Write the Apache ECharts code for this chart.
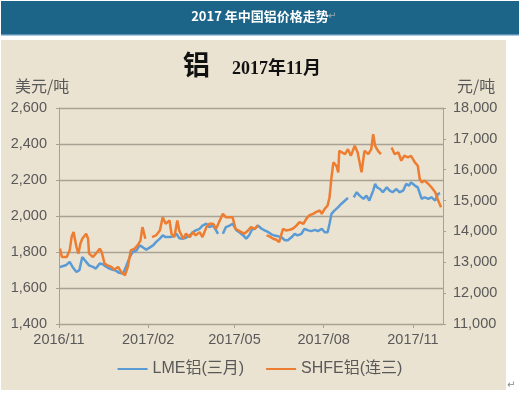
<!DOCTYPE html>
<html><head><meta charset="utf-8">
<script src="https://cdn.jsdelivr.net/npm/echarts@6/dist/echarts.min.js"></script>
<style>html,body{margin:0;padding:0;background:#fff}#c{width:520px;height:393px}</style>
</head><body><div id="c"></div>
<script>
// LME aluminium (3-month), USD/t
const lmeDates = ['2016-11-02','2016-11-08','2016-11-12','2016-11-15','2016-11-19','2016-11-22','2016-11-25','2016-11-29','2016-12-02','2016-12-06','2016-12-09','2016-12-13','2016-12-16','2016-12-20','2016-12-23','2016-12-26','2016-12-30','2017-01-02','2017-01-06','2017-01-09','2017-01-13','2017-01-16','2017-01-20','2017-01-23','2017-01-26','2017-01-30','2017-02-02','2017-02-06','2017-02-09','2017-02-13','2017-02-16','2017-02-19','2017-02-23','2017-02-26','2017-03-02','2017-03-05','2017-03-09','2017-03-12','2017-03-16','2017-03-19','2017-03-22','2017-03-26','2017-03-29','2017-04-02','2017-04-05','2017-04-09','2017-04-12','2017-04-14','2017-04-16','2017-04-19','2017-04-22','2017-04-26','2017-04-29','2017-05-03','2017-05-06','2017-05-10','2017-05-13','2017-05-16','2017-05-19','2017-05-22','2017-05-25','2017-05-29','2017-06-01','2017-06-05','2017-06-08','2017-06-11','2017-06-15','2017-06-18','2017-06-22','2017-06-25','2017-06-29','2017-07-02','2017-07-05','2017-07-09','2017-07-12','2017-07-16','2017-07-19','2017-07-23','2017-07-26','2017-07-30','2017-08-02','2017-08-05','2017-08-07','2017-08-09','2017-08-12','2017-08-16','2017-08-19','2017-08-23','2017-08-26','2017-08-28','2017-09-01','2017-09-04','2017-09-07','2017-09-11','2017-09-14','2017-09-17','2017-09-21','2017-09-23','2017-09-25','2017-09-28','2017-10-01','2017-10-05','2017-10-08','2017-10-11','2017-10-15','2017-10-18','2017-10-22','2017-10-25','2017-10-28','2017-10-30','2017-11-03','2017-11-06','2017-11-10','2017-11-13','2017-11-17','2017-11-20','2017-11-24','2017-11-27','2017-11-29'];
const lmeValues = [1717,1726,1745,1717,1689,1699,1772,1745,1726,1717,1708,1736,1732,1717,1708,1702,1695,1684,1680,1717,1772,1800,1809,1837,1828,1813,1823,1837,1855,1874,1892,1883,1883,1886,1901,1877,1874,1879,1892,1910,1920,1929,1947,1957,1938,1947,1920,1901,null,1901,1938,1947,1957,1920,1910,1892,1874,1892,1925,1929,1947,1929,1920,1910,1898,1892,1887,1883,1865,1865,1883,1901,1892,1901,1929,1920,1916,1923,1916,1929,1910,1910,1957,2012,2030,2049,2067,2086,2101,null,2104,2132,2113,2095,2113,2086,2141,2178,2159,2150,2132,2159,2141,2132,2150,2132,2141,2178,2169,2187,2169,2159,2095,2104,2095,2104,2086,2123,2127];

// SHFE aluminium (3rd contract), CNY/t
const shfeDates = ['2016-11-02','2016-11-04','2016-11-06','2016-11-09','2016-11-12','2016-11-14','2016-11-16','2016-11-19','2016-11-21','2016-11-23','2016-11-25','2016-11-29','2016-12-01','2016-12-02','2016-12-06','2016-12-09','2016-12-13','2016-12-15','2016-12-18','2016-12-21','2016-12-25','2016-12-28','2017-01-01','2017-01-04','2017-01-06','2017-01-08','2017-01-11','2017-01-14','2017-01-18','2017-01-21','2017-01-24','2017-01-26','2017-01-27','2017-01-29','2017-02-01','2017-02-05','2017-02-09','2017-02-13','2017-02-16','2017-02-19','2017-02-23','2017-02-25','2017-02-28','2017-03-03','2017-03-05','2017-03-09','2017-03-12','2017-03-16','2017-03-19','2017-03-22','2017-03-26','2017-03-29','2017-04-02','2017-04-05','2017-04-09','2017-04-12','2017-04-15','2017-04-19','2017-04-22','2017-04-26','2017-04-29','2017-05-02','2017-05-04','2017-05-08','2017-05-11','2017-05-15','2017-05-18','2017-05-22','2017-05-25','2017-05-29','2017-06-03','2017-06-06','2017-06-10','2017-06-13','2017-06-16','2017-06-20','2017-06-23','2017-06-27','2017-06-30','2017-07-04','2017-07-07','2017-07-11','2017-07-14','2017-07-17','2017-07-21','2017-07-24','2017-07-28','2017-07-30','2017-08-02','2017-08-05','2017-08-07','2017-08-09','2017-08-11','2017-08-14','2017-08-16','2017-08-17','2017-08-19','2017-08-23','2017-08-26','2017-08-29','2017-09-02','2017-09-05','2017-09-09','2017-09-12','2017-09-16','2017-09-19','2017-09-21','2017-09-23','2017-09-26','2017-09-29','2017-10-03','2017-10-10','2017-10-13','2017-10-17','2017-10-20','2017-10-23','2017-10-27','2017-10-30','2017-11-03','2017-11-06','2017-11-08','2017-11-10','2017-11-13','2017-11-17','2017-11-20','2017-11-24','2017-11-27','2017-11-30'];
const shfeValues = [13442,13172,13119,13172,13387,13817,13979,13495,13280,13602,13764,13925,13764,13280,13172,13280,13442,13334,12957,12903,12850,12764,12850,12688,12635,12581,12850,13387,13442,13549,13700,14140,14032,13764,null,13817,13871,14032,14463,14248,14355,13925,13817,14355,14032,13764,13925,13817,13979,13871,13979,13817,14140,14248,14248,14086,14301,14570,14463,14463,14463,14086,14032,13979,13925,14032,14140,14086,14194,null,13871,13839,13764,13731,13656,14086,14032,14054,14086,14194,14301,14248,14409,14516,14570,14624,14678,14570,14731,14839,15108,15753,16237,16129,15914,16613,16610,16506,16667,16452,16775,16559,15914,16613,16506,16667,17151,16775,16613,16506,null,16721,16506,16559,16291,16452,16398,16452,16237,16129,15700,15592,15645,15538,15430,15269,15000,14785];

const seriesNames = ['LME铝(三月)', 'SHFE铝(连三)'];
const xTickDates = ['2016-11-01','2017-02-01','2017-05-01','2017-08-01','2017-11-01'];
const xTickLabels = ['2016/11','2017/02','2017/05','2017/08','2017/11'];
const axisStart = '2016-11-01', axisEnd = '2017-12-02';

// calendar-day categories for the x axis
const categories = [];
(function(){
  let d = new Date(axisStart + 'T00:00:00Z');
  const end = new Date(axisEnd + 'T00:00:00Z');
  while (d <= end) { categories.push(d.toISOString().slice(0,10)); d = new Date(d.getTime() + 86400000); }
})();
const catIndex = {}; categories.forEach((c,i)=>catIndex[c]=i);
function pairs(dates, vals){ return dates.map((d,i)=>[catIndex[d], vals[i]==null ? '-' : vals[i]]); }
const tickSet = {}; xTickDates.forEach((d,i)=>tickSet[d]=xTickLabels[i]);
const isTick = (i, v) => tickSet[v] !== undefined;
const fmt = v => Number(v).toLocaleString('en-US');

const gridC = '#a8a195';
const txtC = '#595959';
const chart = echarts.init(document.getElementById('c'));
chart.setOption({
  animation: false,
  backgroundColor: '#ffffff',
  graphic: [
    {type:'rect', z:-10, shape:{x:1,y:1,width:518,height:34}, style:{fill:'#1c6589'}},
    {type:'rect', z:-10, shape:{x:1,y:34,width:518,height:1.5}, style:{fill:'#5b93b8'}},
    {type:'rect', z:-10, shape:{x:1,y:40,width:505,height:350}, style:{fill:'#ebe3d1'}},
    {type:'text', left:'center', top:10, style:{text:'2017 年中国铝价格走势', fill:'#ffffff', font:'bold 13px "Noto Sans CJK SC", sans-serif'}},
    {type:'text', x:328, y:11, style:{text:'↵', fill:'#9aa8b0', font:'10px "DejaVu Sans"'}},
    {type:'text', x:507, y:380, style:{text:'↵', fill:'#888', font:'10px "DejaVu Sans"'}},
    {type:'text', x:183, y:51, style:{text:'铝', fill:'#111', font:'bold 27px "Noto Sans CJK SC", serif'}},
    {type:'text', x:232, y:60, style:{text:'2017年11月', fill:'#111', font:'bold 18px "Liberation Serif", "Noto Sans CJK SC", serif'}},
    {type:'text', x:15, y:78, style:{text:'美元/吨', fill:txtC, font:'16px "Noto Sans CJK SC", sans-serif'}},
    {type:'text', x:457, y:78, style:{text:'元/吨', fill:txtC, font:'16px "Noto Sans CJK SC", sans-serif'}}
  ],
  grid: {left:59, right:77, top:108, bottom:69, containLabel:false, outerBoundsMode:'none'},
  legend: {
    bottom: 11, left: 'center', itemWidth: 30, itemHeight: 2, itemGap: 22, icon: 'rect',
    textStyle: {fontSize: 16, color: txtC, fontFamily: '"Liberation Sans", "Noto Sans CJK SC", sans-serif'},
    data: seriesNames
  },
  xAxis: {
    type: 'category', data: categories, boundaryGap: false,
    axisLine: {lineStyle: {color: gridC, width: 1}},
    axisTick: {show: true, interval: isTick, length: 4, lineStyle: {color: gridC}},
    axisLabel: {interval: isTick, formatter: v => tickSet[v] || '', fontSize: 14.5, color: txtC, margin: 8,
      fontFamily: '"Liberation Sans", sans-serif'},
    splitLine: {show: false}
  },
  yAxis: [
    {type:'value', min:1400, max:2600, interval:200, position:'left',
     axisLine:{show:true, lineStyle:{color:gridC}},
     axisTick:{show:true, length:3, lineStyle:{color:gridC}},
     axisLabel:{formatter: fmt, fontSize:14.5, color:txtC, margin:12, fontFamily:'"Liberation Sans", sans-serif'},
     splitLine:{show:true, lineStyle:{color:gridC, width:1.3}}},
    {type:'value', min:11000, max:18000, interval:1000, position:'right',
     axisLine:{show:true, lineStyle:{color:gridC}},
     axisTick:{show:true, length:3, lineStyle:{color:gridC}},
     axisLabel:{formatter: fmt, fontSize:14.5, color:txtC, margin:10, fontFamily:'"Liberation Sans", sans-serif'},
     splitLine:{show:false}}
  ],
  series: [
    {name: seriesNames[0], type:'line', yAxisIndex:0, symbol:'none', connectNulls:false,
     lineStyle:{color:'#5b9bd5', width:2.5}, itemStyle:{color:'#5b9bd5'}, data: pairs(lmeDates, lmeValues)},
    {name: seriesNames[1], type:'line', yAxisIndex:1, symbol:'none', connectNulls:false,
     lineStyle:{color:'#ed7d31', width:2.5}, itemStyle:{color:'#ed7d31'}, data: pairs(shfeDates, shfeValues)}
  ]
});
</script></body></html>
